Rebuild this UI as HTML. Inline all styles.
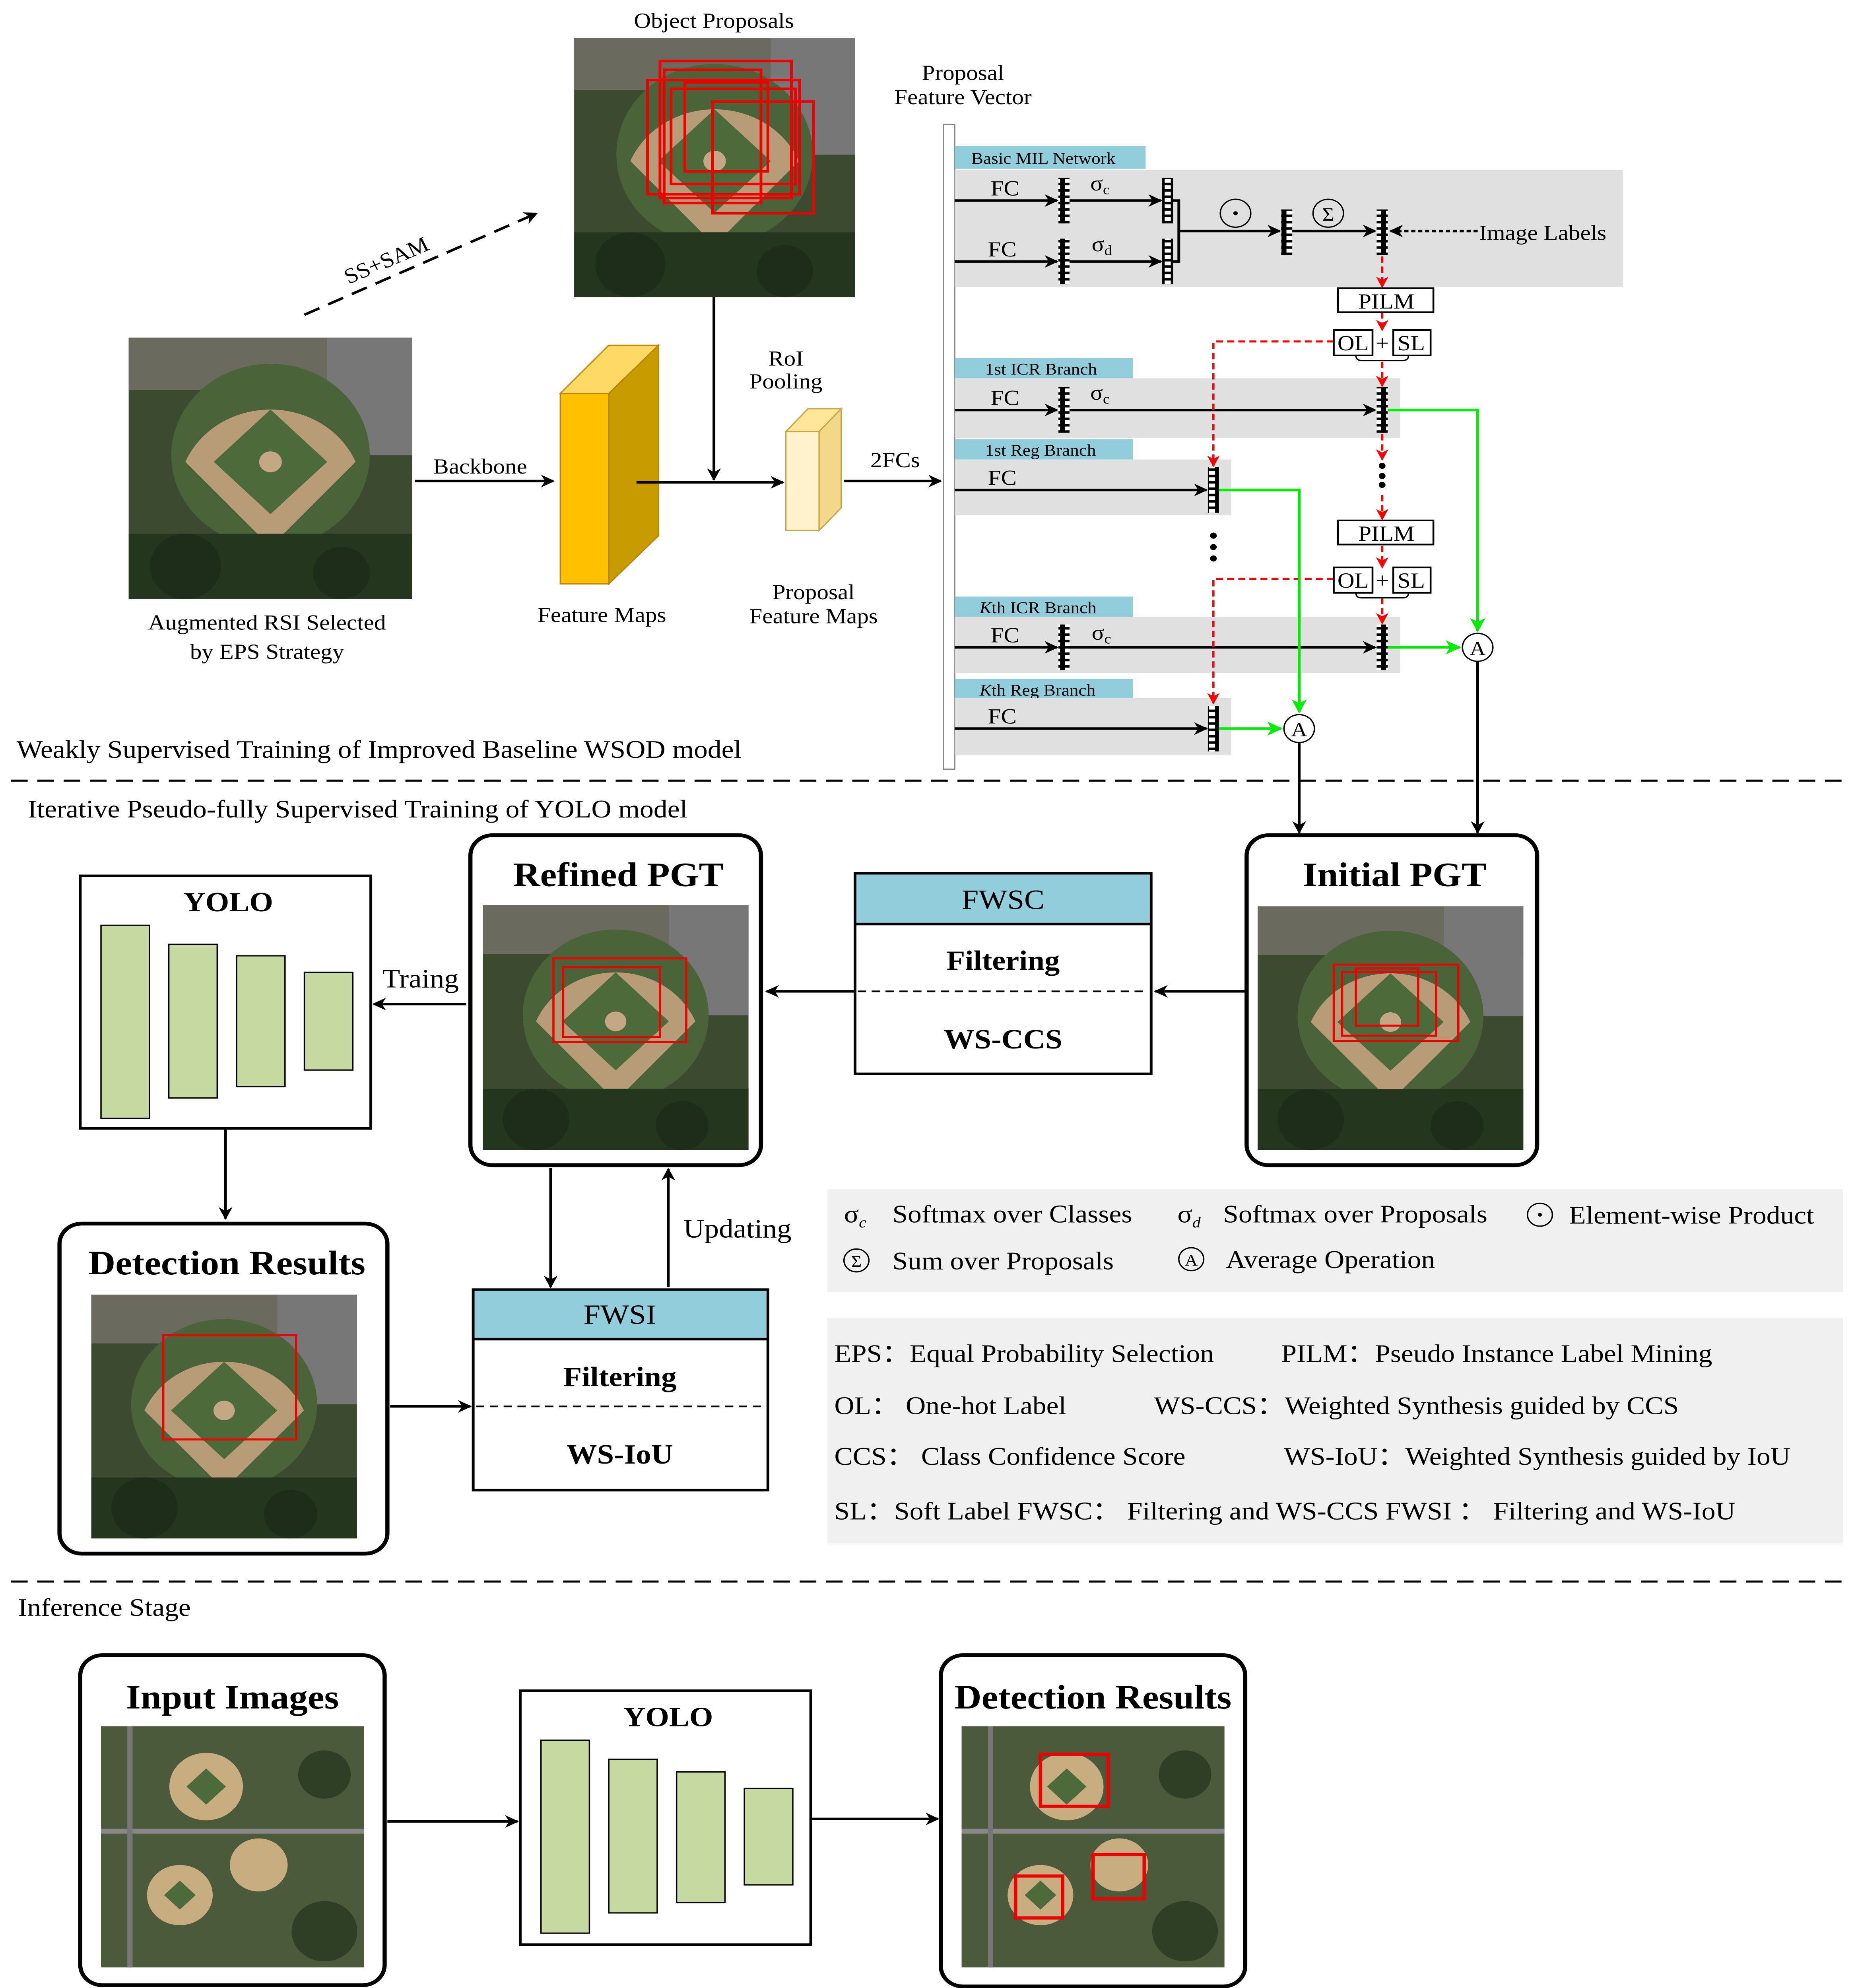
<!DOCTYPE html>
<html><head><meta charset="utf-8"><style>html,body{margin:0;padding:0;background:#fff;width:100%;height:100%;overflow:hidden}svg{display:block;width:100vw;height:100vh}</style></head><body>
<svg xmlns="http://www.w3.org/2000/svg" viewBox="0 0 1340 1566.2" preserveAspectRatio="none" font-family="Liberation Serif, serif">
<defs>
<marker id="ab" markerWidth="10" markerHeight="10" refX="9" refY="5" orient="auto" markerUnits="userSpaceOnUse"><path d="M0,0 L10,5 L0,10 L3,5 z" fill="#000"/></marker>
<marker id="ar" markerWidth="9" markerHeight="9" refX="8" refY="4.5" orient="auto" markerUnits="userSpaceOnUse"><path d="M0,0 L9,4.5 L0,9 L2.5,4.5 z" fill="#f00"/></marker>
<marker id="ag" markerWidth="11" markerHeight="11" refX="10" refY="5.5" orient="auto" markerUnits="userSpaceOnUse"><path d="M0,0 L11,5.5 L0,11 L3,5.5 z" fill="#0e0"/></marker>
<pattern id="cells" width="8" height="5" patternUnits="userSpaceOnUse"><rect width="8" height="5" fill="#000"/><rect x="1.8" y="1" width="4.4" height="3" fill="#fff"/></pattern>
<g id="photo">
<rect width="200" height="200" fill="#3c4a30"/>
<rect x="0" y="0" width="200" height="40" fill="#6b6a5e"/>
<rect x="140" y="0" width="60" height="90" fill="#777"/>
<circle cx="100" cy="90" r="70" fill="#4a6338"/>
<path d="M40,95 A65,65 0 0 1 160,95 L100,160 Z" fill="#b89c78"/>
<path d="M100,55 L140,95 L100,135 L60,95 Z" fill="#4d6a3a"/>
<circle cx="100" cy="95" r="8" fill="#c4a784"/>
<rect x="0" y="150" width="200" height="50" fill="#25361f"/>
<circle cx="40" cy="175" r="25" fill="#1e2d19"/><circle cx="150" cy="180" r="20" fill="#1e2d19"/>
</g>
<g id="photo2">
<rect width="200" height="200" fill="#4a5a3a"/>
<circle cx="80" cy="50" r="28" fill="#c8ad80"/><path d="M80,35 L95,50 L80,65 L65,50 Z" fill="#4d6a3a"/>
<circle cx="60" cy="140" r="25" fill="#c8ad80"/><path d="M60,128 L72,140 L60,152 L48,140 Z" fill="#4d6a3a"/>
<circle cx="120" cy="115" r="22" fill="#c8ad80"/>
<rect x="0" y="85" width="200" height="4" fill="#888"/><rect x="20" y="0" width="4" height="200" fill="#777"/>
<circle cx="170" cy="170" r="25" fill="#2f3f26"/><circle cx="170" cy="40" r="20" fill="#2f3f26"/>
</g>
</defs>
<g font-size="17">
<text x="516" y="22" text-anchor="middle">Object Proposals</text>
<use href="#photo" transform="translate(415,30) scale(1.015,1.02)"/>
<g fill="none" stroke="#e00" stroke-width="2">
<rect x="477" y="48" width="95" height="108"/><rect x="468" y="63" width="110" height="90"/><rect x="485" y="70" width="90" height="75"/><rect x="515" y="80" width="73" height="88"/><rect x="480" y="55" width="70" height="105"/><rect x="495" y="65" width="60" height="70"/>
</g>
<line x1="220" y1="248" x2="388" y2="168" stroke="#000" stroke-width="2" stroke-dasharray="12,7" marker-end="url(#ab)"/>
<text x="0" y="0" transform="translate(252,224) rotate(-25)">SS+SAM</text>
<use href="#photo" transform="translate(93,266) scale(1.025,1.03)"/>
<text x="193" y="496" text-anchor="middle">Augmented RSI Selected</text>
<text x="193" y="519" text-anchor="middle">by EPS Strategy</text>
<line x1="300" y1="379" x2="400" y2="379" stroke="#000" stroke-width="2" marker-end="url(#ab)"/>
<text x="347" y="373" text-anchor="middle">Backbone</text>
<path d="M405,310 L440,272 L476,272 L440,310 Z" fill="#FFD966" stroke="#b8860b"/>
<path d="M440,310 L476,272 L476,422 L440,460 Z" fill="#C89B00" stroke="#b8860b"/>
<rect x="405" y="310" width="35" height="150" fill="#FFC000" stroke="#b8860b"/>
<text x="435" y="490" text-anchor="middle">Feature Maps</text>
<line x1="460" y1="380" x2="566" y2="380" stroke="#000" stroke-width="2" marker-end="url(#ab)"/>
<line x1="516" y1="234" x2="516" y2="378" stroke="#000" stroke-width="2" marker-end="url(#ab)"/>
<text x="568" y="288" text-anchor="middle">RoI</text><text x="568" y="306" text-anchor="middle">Pooling</text>
<path d="M568,340 L584,322 L608,322 L592,340 Z" fill="#FFE699" stroke="#c9a84a"/>
<path d="M592,340 L608,322 L608,400 L592,418 Z" fill="#F4D88A" stroke="#c9a84a"/>
<rect x="568" y="340" width="24" height="78" fill="#FFF2CC" stroke="#c9a84a"/>
<text x="588" y="472" text-anchor="middle">Proposal</text><text x="588" y="491" text-anchor="middle">Feature Maps</text>
<line x1="610" y1="379" x2="680" y2="379" stroke="#000" stroke-width="2" marker-end="url(#ab)"/>
<text x="647" y="368" text-anchor="middle">2FCs</text>
<text x="696" y="63" text-anchor="middle">Proposal</text><text x="696" y="82" text-anchor="middle">Feature Vector</text>
<rect x="682" y="98" width="8" height="508" fill="#fff" stroke="#888"/>
<g font-size="13">
<rect x="690" y="115" width="138" height="18" fill="#92CDDC"/><text x="702" y="129">Basic MIL Network</text>
<rect x="690" y="282" width="129" height="16" fill="#92CDDC"/><text x="712" y="295">1st ICR Branch</text>
<rect x="690" y="346" width="129" height="16" fill="#92CDDC"/><text x="712" y="359">1st Reg Branch</text>
<rect x="690" y="470" width="129" height="16" fill="#92CDDC"/><text x="708" y="483"><tspan font-style="italic">K</tspan>th ICR Branch</text>
<rect x="690" y="535" width="129" height="16" fill="#92CDDC"/><text x="708" y="548"><tspan font-style="italic">K</tspan>th Reg Branch</text>
</g>
<rect x="690" y="134" width="483" height="92" fill="#E0E0E0"/>
<rect x="690" y="298" width="322" height="47" fill="#E0E0E0"/>
<rect x="690" y="362" width="200" height="44" fill="#E0E0E0"/>
<rect x="690" y="486" width="322" height="44" fill="#E0E0E0"/>
<rect x="690" y="550" width="200" height="45" fill="#E0E0E0"/>
<g stroke="#000" stroke-width="2" fill="none">
<line x1="690" y1="158" x2="764" y2="158" marker-end="url(#ab)"/>
<line x1="772" y1="158" x2="839" y2="158" marker-end="url(#ab)"/>
<line x1="690" y1="206" x2="764" y2="206" marker-end="url(#ab)"/>
<line x1="772" y1="206" x2="839" y2="206" marker-end="url(#ab)"/>
<path d="M848,158 H852 V206 H848"/>
<line x1="852" y1="182" x2="925" y2="182" marker-end="url(#ab)"/>
<line x1="933" y1="182" x2="994" y2="182" marker-end="url(#ab)"/>
<line x1="690" y1="323" x2="764" y2="323" marker-end="url(#ab)"/>
<line x1="772" y1="323" x2="994" y2="323" marker-end="url(#ab)"/>
<line x1="690" y1="386" x2="872" y2="386" marker-end="url(#ab)"/>
<line x1="690" y1="510" x2="764" y2="510" marker-end="url(#ab)"/>
<line x1="772" y1="510" x2="994" y2="510" marker-end="url(#ab)"/>
<line x1="690" y1="574" x2="872" y2="574" marker-end="url(#ab)"/>
</g>
<line x1="1068" y1="182" x2="1005" y2="182" stroke="#000" stroke-width="2" stroke-dasharray="3,2" marker-end="url(#ab)"/>
<text x="1069" y="189">Image Labels</text>
<g fill="url(#cells)">
<rect x="765" y="140" width="8" height="36"/><rect x="840" y="140" width="8" height="36"/>
<rect x="765" y="188" width="8" height="36"/><rect x="840" y="188" width="8" height="36"/>
<rect x="926" y="165" width="8" height="36"/><rect x="995" y="165" width="8" height="36"/>
<rect x="765" y="305" width="8" height="36"/><rect x="995" y="305" width="8" height="36"/>
<rect x="873" y="368" width="8" height="36"/>
<rect x="765" y="492" width="8" height="36"/><rect x="995" y="492" width="8" height="36"/>
<rect x="873" y="556" width="8" height="36"/>
</g>
<g font-size="17">
<text x="716" y="154">FC</text><text x="714" y="202">FC</text><text x="716" y="319">FC</text><text x="714" y="382">FC</text><text x="716" y="506">FC</text><text x="714" y="570">FC</text>
<text x="788" y="150">σ<tspan font-size="11" dy="3">c</tspan></text>
<text x="789" y="198">σ<tspan font-size="11" dy="3">d</tspan></text>
<text x="788" y="315">σ<tspan font-size="11" dy="3">c</tspan></text>
<text x="789" y="504">σ<tspan font-size="11" dy="3">c</tspan></text>
</g>
<circle cx="893" cy="168" r="11" fill="none" stroke="#000"/><circle cx="893" cy="168" r="1.6"/>
<circle cx="960" cy="168" r="11" fill="none" stroke="#000"/><text x="960" y="174" font-size="15" text-anchor="middle">Σ</text>
<g stroke="#f00" stroke-width="1.6" stroke-dasharray="5,3" fill="none">
<line x1="999" y1="202" x2="999" y2="226" marker-end="url(#ar)"/>
<line x1="999" y1="246" x2="999" y2="260" marker-end="url(#ar)"/>
<line x1="999" y1="285" x2="999" y2="304" marker-end="url(#ar)"/>
<line x1="999" y1="342" x2="999" y2="362" marker-end="url(#ar)"/>
<line x1="999" y1="390" x2="999" y2="409" marker-end="url(#ar)"/>
<line x1="999" y1="430" x2="999" y2="447" marker-end="url(#ar)"/>
<line x1="999" y1="471" x2="999" y2="491" marker-end="url(#ar)"/>
<path d="M964,269 H877 V367" marker-end="url(#ar)"/>
<path d="M964,456 H877 V554" marker-end="url(#ar)"/>
</g>
<g font-size="17" fill="none" stroke="#000" stroke-width="1.3">
<rect x="967" y="227" width="69" height="19"/><rect x="964" y="260" width="28" height="20"/><rect x="1007" y="260" width="27" height="20"/>
<rect x="967" y="410" width="69" height="19"/><rect x="964" y="447" width="28" height="20"/><rect x="1007" y="447" width="27" height="20"/>
<path d="M980,280 q0,4 4,4 h30 q4,0 4,-4" stroke-width="1"/><path d="M980,467 q0,4 4,4 h30 q4,0 4,-4" stroke-width="1"/>
</g>
<g font-size="17">
<text x="1002" y="243" text-anchor="middle">PILM</text><text x="978" y="276" text-anchor="middle">OL</text><text x="999" y="276" text-anchor="middle">+</text><text x="1020" y="276" text-anchor="middle">SL</text>
<text x="1002" y="426" text-anchor="middle">PILM</text><text x="978" y="463" text-anchor="middle">OL</text><text x="999" y="463" text-anchor="middle">+</text><text x="1020" y="463" text-anchor="middle">SL</text>
</g>
<circle cx="999" cy="367" r="2.4"/><circle cx="999" cy="375" r="2.4"/><circle cx="999" cy="382" r="2.4"/>
<circle cx="877" cy="422" r="2.4"/><circle cx="877" cy="431" r="2.4"/><circle cx="877" cy="440" r="2.4"/>
<g stroke="#0e0" stroke-width="2" fill="none">
<path d="M1003,323 H1068 V497" marker-end="url(#ag)"/>
<path d="M881,386 H939 V561" marker-end="url(#ag)"/>
<line x1="1003" y1="510" x2="1055" y2="510" marker-end="url(#ag)"/>
<line x1="881" y1="574" x2="926" y2="574" marker-end="url(#ag)"/>
</g>
<circle cx="1068" cy="510" r="11" fill="#fff" stroke="#000"/><text x="1068" y="516" text-anchor="middle" font-size="16">A</text>
<circle cx="939" cy="574" r="11" fill="#fff" stroke="#000"/><text x="939" y="580" text-anchor="middle" font-size="16">A</text>
<line x1="939" y1="585" x2="939" y2="656" stroke="#000" stroke-width="2" marker-end="url(#ab)"/>
<line x1="1068" y1="521" x2="1068" y2="656" stroke="#000" stroke-width="2" marker-end="url(#ab)"/>
<text x="12" y="597" font-size="20">Weakly Supervised Training of Improved Baseline WSOD model</text>
<line x1="8" y1="615" x2="1338" y2="615" stroke="#000" stroke-width="1.6" stroke-dasharray="12,7"/>
<text x="20" y="644" font-size="20">Iterative Pseudo-fully Supervised Training of YOLO model</text>

<rect x="58" y="690" width="210" height="199" fill="#fff" stroke="#000" stroke-width="2"/>
<text x="165" y="718" text-anchor="middle" font-weight="bold" font-size="22">YOLO</text>
<g fill="#C5D9A0" stroke="#000" stroke-width="1"><rect x="73" y="729" width="35" height="152"/><rect x="122" y="744" width="35" height="121"/><rect x="171" y="753" width="35" height="103"/><rect x="220" y="766" width="35" height="77"/></g>
<rect x="340" y="658" width="210" height="260" rx="16" fill="#fff" stroke="#000" stroke-width="3"/>
<text x="447" y="698" text-anchor="middle" font-weight="bold" font-size="27">Refined PGT</text>
<use href="#photo" transform="translate(349,713) scale(0.96,0.965)"/>
<g fill="none" stroke="#e00" stroke-width="1.6"><rect x="400" y="755" width="96" height="66"/><rect x="407" y="762" width="70" height="55"/></g>
<rect x="618" y="688" width="214" height="158" fill="#fff" stroke="#000" stroke-width="2"/>
<rect x="619" y="689" width="212" height="39" fill="#92CDDC"/><line x1="618" y1="728" x2="832" y2="728" stroke="#000" stroke-width="2"/>
<text x="725" y="716" text-anchor="middle" font-size="22">FWSC</text>
<text x="725" y="764" text-anchor="middle" font-size="22" font-weight="bold">Filtering</text>
<line x1="620" y1="781" x2="830" y2="781" stroke="#000" stroke-width="1.3" stroke-dasharray="6,4"/>
<text x="725" y="826" text-anchor="middle" font-size="22" font-weight="bold">WS-CCS</text>
<rect x="901" y="658" width="210" height="260" rx="16" fill="#fff" stroke="#000" stroke-width="3"/>
<text x="1008" y="698" text-anchor="middle" font-weight="bold" font-size="27">Initial PGT</text>
<use href="#photo" transform="translate(909,714) scale(0.96,0.96)"/>
<g fill="none" stroke="#e00" stroke-width="1.6"><rect x="964" y="760" width="90" height="60"/><rect x="970" y="766" width="68" height="50"/><rect x="980" y="763" width="45" height="45"/></g>
<line x1="617" y1="781" x2="554" y2="781" stroke="#000" stroke-width="2" marker-end="url(#ab)"/>
<line x1="900" y1="781" x2="835" y2="781" stroke="#000" stroke-width="2" marker-end="url(#ab)"/>
<line x1="337" y1="791" x2="270" y2="791" stroke="#000" stroke-width="2" marker-end="url(#ab)"/>
<text x="304" y="778" text-anchor="middle" font-size="21">Traing</text>
<line x1="163" y1="890" x2="163" y2="960" stroke="#000" stroke-width="2" marker-end="url(#ab)"/>
<line x1="398" y1="920" x2="398" y2="1014" stroke="#000" stroke-width="2" marker-end="url(#ab)"/>
<line x1="483" y1="1014" x2="483" y2="921" stroke="#000" stroke-width="2" marker-end="url(#ab)"/>
<text x="533" y="975" text-anchor="middle" font-size="21">Updating</text>
<rect x="43" y="964" width="237" height="260" rx="16" fill="#fff" stroke="#000" stroke-width="3"/>
<text x="164" y="1004" text-anchor="middle" font-weight="bold" font-size="27">Detection Results</text>
<use href="#photo" transform="translate(66,1020) scale(0.96,0.96)"/>
<rect x="118" y="1052" width="96" height="82" fill="none" stroke="#e00" stroke-width="1.6"/>
<rect x="342" y="1016" width="213" height="158" fill="#fff" stroke="#000" stroke-width="2"/>
<rect x="343" y="1017" width="211" height="38" fill="#92CDDC"/><line x1="342" y1="1055" x2="555" y2="1055" stroke="#000" stroke-width="2"/>
<text x="448" y="1043" text-anchor="middle" font-size="22">FWSI</text>
<text x="448" y="1092" text-anchor="middle" font-size="22" font-weight="bold">Filtering</text>
<line x1="344" y1="1108" x2="553" y2="1108" stroke="#000" stroke-width="1.3" stroke-dasharray="6,4"/>
<text x="448" y="1153" text-anchor="middle" font-size="22" font-weight="bold">WS-IoU</text>
<line x1="282" y1="1108" x2="340" y2="1108" stroke="#000" stroke-width="2" marker-end="url(#ab)"/>
<rect x="598" y="937" width="734" height="81" fill="#F0F0F0"/>
<rect x="598" y="1038" width="734" height="178" fill="#F0F0F0"/>
<g font-size="20">
<text x="610" y="963">σ<tspan font-size="12" dy="4" font-style="italic">c</tspan></text><text x="645" y="963">Softmax over Classes</text>
<text x="851" y="963">σ<tspan font-size="12" dy="4" font-style="italic">d</tspan></text><text x="884" y="963">Softmax over Proposals</text>
<circle cx="1113" cy="957" r="9" fill="none" stroke="#000"/><circle cx="1113" cy="957" r="1.5"/><text x="1134" y="964">Element-wise Product</text>
<circle cx="619" cy="993" r="9" fill="none" stroke="#000"/><text x="619" y="998" font-size="13" text-anchor="middle">Σ</text><text x="645" y="1000">Sum over Proposals</text>
<circle cx="861" cy="992" r="9" fill="none" stroke="#000"/><text x="861" y="997" font-size="13" text-anchor="middle">A</text><text x="886" y="999">Average Operation</text>
<text x="603" y="1073">EPS：Equal Probability Selection</text><text x="926" y="1073">PILM：Pseudo Instance Label Mining</text>
<text x="603" y="1114">OL：  One-hot  Label</text><text x="834" y="1114">WS-CCS：Weighted Synthesis guided by CCS</text>
<text x="603" y="1154">CCS： Class Confidence Score</text><text x="928" y="1154">WS-IoU：Weighted Synthesis guided by IoU</text>
<text x="603" y="1197">SL：Soft Label  FWSC： Filtering and WS-CCS    FWSI ： Filtering and WS-IoU</text>
</g>
<line x1="8" y1="1246" x2="1338" y2="1246" stroke="#000" stroke-width="1.6" stroke-dasharray="12,7"/>
<text x="13" y="1273" font-size="20">Inference Stage</text>
<rect x="58" y="1304" width="220" height="260" rx="16" fill="#fff" stroke="#000" stroke-width="3"/>
<text x="168" y="1346" text-anchor="middle" font-weight="bold" font-size="27">Input Images</text>
<use href="#photo2" transform="translate(73,1360) scale(0.95,0.95)"/>
<rect x="376" y="1332" width="210" height="200" fill="#fff" stroke="#000" stroke-width="2"/>
<text x="483" y="1360" text-anchor="middle" font-weight="bold" font-size="22">YOLO</text>
<g fill="#C5D9A0" stroke="#000" stroke-width="1"><rect x="391" y="1371" width="35" height="152"/><rect x="440" y="1386" width="35" height="121"/><rect x="489" y="1396" width="35" height="103"/><rect x="538" y="1409" width="35" height="76"/></g>
<rect x="680" y="1304" width="220" height="261" rx="16" fill="#fff" stroke="#000" stroke-width="3"/>
<text x="790" y="1346" text-anchor="middle" font-weight="bold" font-size="27">Detection Results</text>
<use href="#photo2" transform="translate(695,1360) scale(0.95,0.95)"/>
<g fill="none" stroke="#e00" stroke-width="2.5"><rect x="752" y="1382" width="49" height="41"/><rect x="734" y="1478" width="34" height="33"/><rect x="790" y="1461" width="37" height="35"/></g>
<line x1="280" y1="1435" x2="374" y2="1435" stroke="#000" stroke-width="2" marker-end="url(#ab)"/>
<line x1="586" y1="1433" x2="678" y2="1433" stroke="#000" stroke-width="2" marker-end="url(#ab)"/>
</g>
</svg>
</body></html>
